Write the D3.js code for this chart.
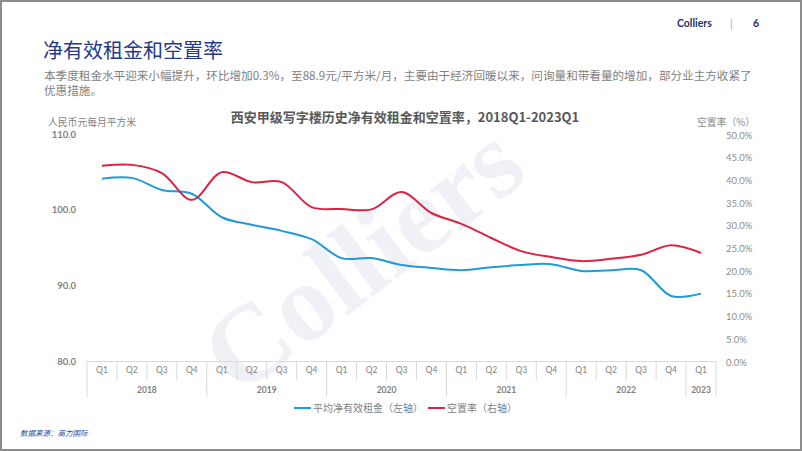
<!DOCTYPE html>
<html lang="zh">
<head>
<meta charset="UTF-8">
<script src="https://cdn.jsdelivr.net/npm/d3@7"></script>
<title>净有效租金和空置率</title>
<style>
  body { margin: 0; background: #fff; }
  text { font-family: "Noto Sans CJK SC", "Noto Sans", sans-serif; }
  .num { font-family: Lato, "Open Sans", sans-serif; }
</style>
</head>
<body>
<script>
const quarters = ["Q1","Q2","Q3","Q4","Q1","Q2","Q3","Q4","Q1","Q2","Q3","Q4","Q1","Q2","Q3","Q4","Q1","Q2","Q3","Q4","Q1"]
const years = ["2018","2019","2020","2021","2022","2023"]
const yearCounts = [4, 4, 4, 4, 4, 1]
// 平均净有效租金（元/平方米/月）
const rent = [104.1, 104.2, 102.6, 102.1, 99.0, 98.0, 97.2, 96.1, 93.6, 93.6, 92.7, 92.3, 92.0, 92.4, 92.7, 92.8, 91.9, 92.0, 92.0, 88.6, 88.9]
// 空置率（%）
const vacancy = [43.0, 43.2, 41.4, 35.5, 41.6, 39.4, 39.4, 33.9, 33.5, 33.4, 37.2, 32.6, 30.2, 27.1, 24.2, 22.9, 22.0, 22.5, 23.4, 25.5, 23.8]
const leftTicks = [80, 90, 100, 110]
const rightTicks = [0, 5, 10, 15, 20, 25, 30, 35, 40, 45, 50]

const W = 802, H = 451
const blue = "#1f9bd7", red = "#dc2341", grid = "#d9d9d9"

const svg = d3.select("body").append("svg")
    .attr("width", W)
    .attr("height", H)

svg.append("rect")
    .attr("x", 1).attr("y", 1)
    .attr("width", W - 2).attr("height", H - 2)
    .attr("fill", "#fff")
    .attr("stroke", "#8c8c8c")
    .attr("stroke-width", 2)

// header
svg.append("text").attr("x", 677).attr("y", 27)
    .attr("font-size", 10.5).attr("font-weight", "bold").attr("fill", "#26306b")
    .attr("class", "num").text("Colliers")
svg.append("text").attr("x", 730).attr("y", 27)
    .attr("font-size", 10).attr("fill", "#9aa0b8").text("|")
svg.append("text").attr("x", 753).attr("y", 27)
    .attr("font-size", 10.5).attr("font-weight", "bold").attr("fill", "#26306b")
    .attr("class", "num").text("6")

svg.append("text").attr("x", 43).attr("y", 58)
    .attr("font-size", 20).attr("fill", "#233a8c")
    .text("净有效租金和空置率")

svg.append("text").attr("x", 44).attr("y", 80)
    .attr("font-size", 11.6).attr("fill", "#7f7f7f")
    .text("本季度租金水平迎来小幅提升，环比增加0.3%，至88.9元/平方米/月，主要由于经济回暖以来，问询量和带看量的增加，部分业主方收紧了")
svg.append("text").attr("x", 44).attr("y", 95)
    .attr("font-size", 11.6).attr("fill", "#7f7f7f")
    .text("优惠措施。")

// chart
const x = d3.scaleBand().domain(d3.range(quarters.length)).range([87, 716])
const yL = d3.scaleLinear().domain([80, 110]).range([361, 134])
const yR = d3.scaleLinear().domain([0, 50]).range([361, 134])

// watermark
svg.append("text")
    .attr("transform", "translate(362,258) rotate(-37)")
    .attr("text-anchor", "middle")
    .attr("dominant-baseline", "central")
    .attr("font-weight", "bold")
    .attr("font-size", 110)
    .attr("fill", "#eff1f6")
    .style("font-family", "'Liberation Serif', 'DejaVu Serif', serif")
    .text("Colliers")

svg.append("text").attr("x", 405).attr("y", 122)
    .attr("text-anchor", "middle")
    .attr("font-size", 13).attr("font-weight", "bold").attr("fill", "#595959")
    .text("西安甲级写字楼历史净有效租金和空置率，2018Q1-2023Q1")

svg.append("text").attr("x", 48).attr("y", 126)
    .attr("font-size", 9.8).attr("fill", "#7f7f7f")
    .text("人民币元每月平方米")
svg.append("text").attr("x", 697).attr("y", 126)
    .attr("font-size", 9.8).attr("fill", "#8c8c8c")
    .text("空置率（%）")

const leftAxis = svg.append("g")
    .attr("transform", "translate(76,0)")
    .call(d3.axisLeft(yL).tickValues(leftTicks).tickSize(0).tickPadding(0).tickFormat(d3.format(".1f")))
leftAxis.select(".domain").remove()
leftAxis.selectAll("text")
    .attr("class", "num")
    .attr("font-size", 9.5).attr("font-weight", "bold").attr("fill", "#7f7f7f")

const rightAxis = svg.append("g")
    .attr("transform", "translate(726,1)")
    .call(d3.axisRight(yR).tickValues(rightTicks).tickSize(0).tickPadding(0).tickFormat(d => d3.format(".1f")(d) + "%"))
rightAxis.select(".domain").remove()
rightAxis.selectAll("text")
    .attr("class", "num")
    .attr("font-size", 9.5).attr("fill", "#8c8c8c")

// category axis
const xAxis = svg.append("g")
    .attr("transform", "translate(0,361)")
    .call(d3.axisBottom(x).tickSize(0).tickPadding(6).tickFormat(i => quarters[i]))
xAxis.select(".domain").attr("stroke", grid)
xAxis.selectAll("text")
    .attr("class", "num")
    .attr("font-size", 8.5).attr("fill", "#7f7f7f")

const starts = yearCounts.map((c, i) => d3.sum(yearCounts.slice(0, i)))
const yearStart = new Set(starts)
svg.append("g").selectAll("line")
    .data(d3.range(quarters.length + 1))
    .join("line")
    .attr("x1", i => i < quarters.length ? x(i) : x.range()[1])
    .attr("x2", i => i < quarters.length ? x(i) : x.range()[1])
    .attr("y1", 361)
    .attr("y2", i => (yearStart.has(i) || i === quarters.length) ? 397 : 380)
    .attr("stroke", grid)

svg.append("g").selectAll("text")
    .data(years)
    .join("text")
    .attr("class", "num")
    .attr("x", (d, i) => x(starts[i]) + x.bandwidth() * yearCounts[i] / 2)
    .attr("y", 393)
    .attr("text-anchor", "middle")
    .attr("font-size", 8.5).attr("font-weight", "bold").attr("fill", "#7f7f7f")
    .text(d => d)

// lines
const cx = i => x(i) + x.bandwidth() / 2
svg.append("path")
    .datum(rent)
    .attr("fill", "none").attr("stroke", blue).attr("stroke-width", 2)
    .attr("d", d3.line().x((d, i) => cx(i)).y(d => yL(d)).curve(d3.curveCatmullRom.alpha(0.5)))
svg.append("path")
    .datum(vacancy)
    .attr("fill", "none").attr("stroke", red).attr("stroke-width", 2)
    .attr("d", d3.line().x((d, i) => cx(i)).y(d => yR(d)).curve(d3.curveCatmullRom.alpha(0.5)))

// legend
const legend = [
  { label: "平均净有效租金（左轴）", color: blue, x: 294 },
  { label: "空置率（右轴）", color: red, x: 428 }
]
const lg = svg.append("g").selectAll("g").data(legend).join("g")
lg.append("line")
    .attr("x1", d => d.x).attr("x2", d => d.x + 17)
    .attr("y1", 408).attr("y2", 408)
    .attr("stroke", d => d.color).attr("stroke-width", 2)
lg.append("text")
    .attr("x", d => d.x + 19).attr("y", 412)
    .attr("font-size", 10).attr("fill", "#7f7f7f")
    .text(d => d.label)

svg.append("text").attr("x", 20).attr("y", 436)
    .attr("font-size", 7.5).attr("font-style", "italic").attr("fill", "#2e4a9e")
    .text("数据来源：高力国际")
</script>
</body>
</html>
